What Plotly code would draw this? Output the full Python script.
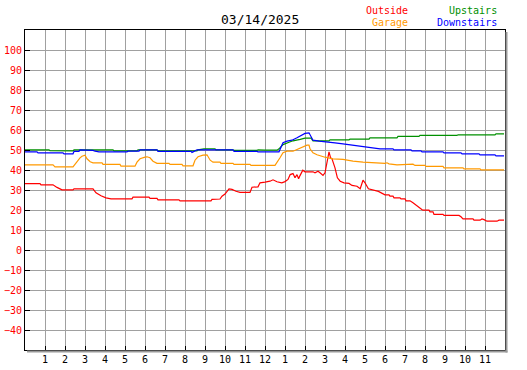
import plotly.graph_objects as go

# ---------------- data (hours since midnight, temperature) ----------------
outside_h = [0.0, 0.75, 0.8, 1.4, 1.6, 1.85, 2.4, 2.45, 3.4, 3.55, 3.8, 4.05, 4.3, 5.35, 5.4, 6.2, 6.25,
             6.6, 6.65, 7.7, 7.75, 9.3, 9.35, 9.75, 9.85, 10.0, 10.2, 10.35, 10.55, 10.75, 11.25, 11.35,
             11.65, 11.75, 12.0, 12.15, 12.25, 12.4, 12.6, 12.84, 13.0, 13.15, 13.26, 13.4, 13.5, 13.6,
             13.68, 13.75, 13.89, 14.0, 14.4, 14.5, 14.65, 14.75, 14.9, 15.0, 15.13, 15.2, 15.28, 15.35,
             15.5, 15.62, 15.76, 15.95, 16.2, 16.35, 16.6, 16.76, 16.9, 17.0, 17.17, 17.4, 17.67, 18.0,
             18.2, 18.25, 18.4, 18.45, 18.75, 18.8, 19.0, 19.05, 19.25, 19.4, 19.6, 19.84, 19.9, 20.2,
             20.25, 20.4, 20.45, 20.9, 20.95, 21.7, 21.8, 21.9, 22.4, 22.45, 22.75, 22.85, 22.95, 23.1,
             23.6, 23.7, 23.95]
outside_v = [33.2, 33.2, 32.6, 32.6, 31.3, 30.1, 30.1, 30.6, 30.6, 28.6, 27.1, 26.1, 25.6, 25.6, 26.4, 26.4, 25.8,
             25.8, 25.1, 25.1, 24.6, 24.6, 25.3, 25.5, 26.9, 28.0, 30.6, 30.3, 29.4, 28.8, 28.8, 31.4,
             31.6, 33.6, 33.9, 34.1, 34.4, 35.1, 34.1, 33.6, 34.2, 35.3, 37.7, 38.2, 36.1, 37.7,
             35.6, 37.2, 39.9, 39.1, 39.1, 38.6, 39.4, 38.6, 37.3, 38.6, 45.6, 49.1, 46.1, 45.6,
             41.1, 36.1, 34.4, 33.6, 33.3, 32.3, 31.9, 30.6, 34.9, 33.6, 30.6, 29.9, 29.3, 27.6,
             27.6, 26.9, 26.9, 26.1, 26.1, 25.6, 25.6, 24.6, 24.6, 23.6, 21.9, 20.3, 19.9, 19.9,
             19.1, 19.1, 17.8, 17.8, 17.3, 17.3, 16.6, 15.6, 15.6, 14.9, 14.9, 15.5, 15.2, 14.4,
             14.4, 14.9, 14.9]

garage_h = [0.0, 1.4, 1.45, 1.5, 2.4, 2.6, 2.75, 2.85, 3.0, 3.1, 3.26, 3.4, 3.85, 3.9, 4.75, 4.8, 5.5, 5.6,
            5.75, 6.0, 6.1, 6.25, 6.4, 6.6, 7.2, 7.25, 7.85, 7.9, 8.4, 8.5, 8.65, 8.9, 9.1, 9.26, 9.4,
            9.75, 9.8, 10.4, 10.45, 11.25, 11.3, 12.5, 12.6, 12.75, 12.9, 13.1, 13.4, 13.6, 13.84, 14.1,
            14.2, 14.25, 14.4, 14.6, 15.0, 15.4, 15.9, 16.4, 16.9, 17.4, 18.0, 18.1, 18.2, 18.6, 19.3,
            19.4, 19.5, 20.0, 20.05, 20.9, 20.95, 21.9, 21.95, 22.75, 22.8, 23.95]
garage_v = [42.6, 42.6, 42.1, 41.6, 41.6, 44.4, 46.1, 46.9, 47.4, 45.6, 44.1, 43.6, 43.6, 42.8, 42.8, 41.9, 41.9, 43.9,
            45.6, 46.4, 46.6, 46.1, 44.4, 43.3, 43.3, 42.8, 42.8, 42.1, 42.1, 44.9, 46.6, 47.4, 47.6, 44.9, 43.9,
            43.9, 43.3, 43.3, 42.8, 42.8, 42.3, 42.3, 43.6, 46.1, 48.6, 49.4, 49.4, 50.3, 51.4, 52.4,
            52.4, 50.6, 48.6, 47.6, 46.4, 45.6, 45.3, 44.4, 43.9, 43.6, 43.3, 43.6, 43.1, 42.6, 42.6,
            42.9, 42.3, 42.3, 41.8, 41.8, 41.1, 41.1, 40.6, 40.6, 40.1, 40.1]

upstairs_h = [0.0, 1.2, 1.25, 1.5, 2.4, 2.45, 4.4, 4.45, 5.6, 5.65, 6.6, 6.65, 8.6, 8.65, 8.95, 9.5, 9.55,
              10.4, 10.45, 11.6, 11.65, 12.0, 12.6, 12.7, 12.9, 13.2, 13.4, 13.76, 14.0, 14.3, 14.35, 14.4,
              15.2, 15.25, 16.2, 16.25, 17.2, 17.25, 18.6, 18.65, 19.7, 19.75, 21.6, 21.65, 23.5, 23.55, 23.95]
upstairs_v = [50.1, 50.1, 49.7, 49.6, 49.6, 50.1, 50.1, 49.6, 49.6, 50.1, 50.1, 49.6, 49.6, 50.1, 50.6, 50.6, 50.1,
              50.1, 49.8, 49.8, 50.1, 49.9, 49.9, 50.6, 52.7, 53.9, 54.6, 55.3, 55.9, 55.9, 54.9, 54.6,
              54.6, 55.1, 55.1, 55.4, 55.4, 56.1, 56.1, 56.8, 56.8, 57.3, 57.3, 57.6, 57.6, 58.1, 58.1]

downstairs_h = [0.0, 0.6, 0.65, 1.9, 1.95, 2.4, 2.45, 2.7, 2.75, 3.1, 3.15, 3.4, 3.5, 3.7, 5.1, 5.15, 5.7,
                5.75, 6.6, 6.65, 8.3, 8.35, 8.45, 8.6, 10.4, 10.45, 11.6, 11.65, 12.7, 12.8, 12.9, 13.1,
                13.35, 13.6, 13.84, 14.0, 14.2, 14.3, 14.4, 14.7, 15.2, 15.5, 15.9, 16.5, 17.1, 17.75,
                18.4, 18.45, 19.3, 19.35, 19.8, 19.85, 20.9, 20.95, 21.8, 21.85, 22.7, 22.75, 23.5, 23.55, 23.95]
downstairs_v = [49.1, 49.1, 48.6, 48.6, 48.1, 48.1, 49.3, 49.3, 50.1, 50.1, 49.8, 49.8, 49.4, 49.1, 49.1, 49.4, 49.4,
                50.1, 50.1, 49.3, 49.3, 48.8, 49.3, 50.1, 50.1, 49.3, 49.3, 49.1, 49.1, 51.1, 53.6, 54.4,
                54.9, 56.1, 57.3, 58.3, 58.6, 56.6, 54.9, 54.4, 54.1, 53.6, 53.1, 52.4, 51.6, 50.6,
                50.6, 50.1, 50.1, 49.6, 49.6, 49.1, 49.1, 48.6, 48.6, 48.1, 48.1, 47.6, 47.6, 47.1, 47.1]

hour_ticks = list(range(1, 24))
hour_labels = ["1", "2", "3", "4", "5", "6", "7", "8", "9", "10", "11", "12",
               "1", "2", "3", "4", "5", "6", "7", "8", "9", "10", "11"]
temp_ticks = list(range(-40, 101, 10))
title_text = "03/14/2025"

series = [
    ("Outside", outside_h, outside_v, "#ff0000"),
    ("Garage", garage_h, garage_v, "#ff9900"),
    ("Upstairs", upstairs_h, upstairs_v, "#009000"),
    ("Downstairs", downstairs_h, downstairs_v, "#0000ff"),
]

FONT = "DejaVu Sans Mono"

fig = go.Figure()
for name, xs, ys, col in series:
    fig.add_trace(go.Scatter(x=xs, y=ys, mode="lines", name=name,
                             line=dict(color=col, width=1.2), hoverinfo="skip"))

fig.update_layout(
    width=527, height=370, autosize=False,
    margin=dict(l=25, r=22, t=30, b=20, autoexpand=False),
    paper_bgcolor="white", plot_bgcolor="white",
    showlegend=False,
    font=dict(family=FONT, size=10, color="black"),
)
fig.update_xaxes(
    range=[0, 24], tickmode="array", tickvals=hour_ticks, ticktext=hour_labels,
    showgrid=True, gridcolor="#a0a0a0", gridwidth=1,
    ticks="inside", ticklen=4, tickcolor="black", tickwidth=1,
    showline=True, linecolor="black", linewidth=1, mirror=True,
    zeroline=False, tickfont=dict(family=FONT, size=10, color="black"),
    fixedrange=True, automargin=False,
)
fig.update_yaxes(
    range=[-50, 110], tickmode="array", tickvals=temp_ticks,
    showgrid=True, gridcolor="#a0a0a0", gridwidth=1,
    ticks="inside", ticklen=5, tickcolor="black", tickwidth=1,
    showline=True, linecolor="black", linewidth=1, mirror=True,
    zeroline=False, tickfont=dict(family=FONT, size=10, color="#ff0000"),
    fixedrange=True, automargin=False,
)

# drop shadow on right and bottom of the plot frame
px_x = 1 / 480
px_y = 1 / 320
fig.add_shape(type="line", xref="paper", yref="paper",
              x0=1 + 1.5 * px_x, x1=1 + 1.5 * px_x, y0=1 - 2 * px_y, y1=-2.5 * px_y,
              line=dict(color="#999999", width=2), layer="above")
fig.add_shape(type="line", xref="paper", yref="paper",
              x0=2 * px_x, x1=1 + 2.5 * px_x, y0=-1.5 * px_y, y1=-1.5 * px_y,
              line=dict(color="#999999", width=2), layer="above")

# title and legend labels
fig.add_annotation(text=title_text, xref="paper", yref="paper", x=0.49, y=1.033,
                   xanchor="center", yanchor="middle", showarrow=False,
                   font=dict(family=FONT, size=13, color="black"))
legend_pos = [("Outside", 0.8025, 1.061, "#ff0000"), ("Garage", 0.8025, 1.023, "#ff9900"),
              ("Upstairs", 0.9885, 1.061, "#009000"), ("Downstairs", 0.9885, 1.023, "#0000ff")]
for txt, x, y, col in legend_pos:
    fig.add_annotation(text=txt, xref="paper", yref="paper", x=x, y=y,
                       xanchor="right", yanchor="middle", showarrow=False,
                       font=dict(family=FONT, size=10, color=col))

fig.write_html("out.html", config={"displayModeBar": False, "staticPlot": True},
               post_script="document.body.style.margin='0';document.body.style.padding='0';")
